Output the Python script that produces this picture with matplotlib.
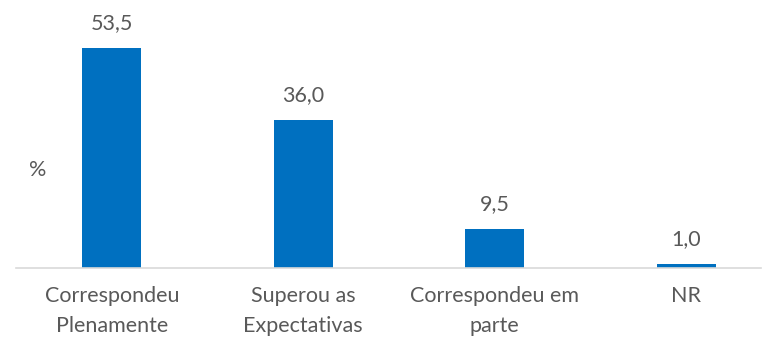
import matplotlib.pyplot as plt

categories = ["Correspondeu\nPlenamente", "Superou as\nExpectativas", "Correspondeu em\nparte", "NR"]
values = [53.5, 36.0, 9.5, 1.0]
value_labels = ["53,5", "36,0", "9,5", "1,0"]

plt.rcParams['font.family'] = ['Lato', 'DejaVu Sans']
text_color = '#595959'
bar_color = '#0070C0'

fig = plt.figure(figsize=(7.62, 3.43), dpi=100)
# axes run off the right edge a little, like a cropped chart
ax = fig.add_axes([16 / 762, 75 / 343, 745 / 762, 60 * 4.11 / 343])

x = range(len(categories))
ax.bar(x, values, width=0.31, color=bar_color, zorder=2)
for xi, v, lab in zip(x, values, value_labels):
    ax.annotate(lab, (xi, v), xytext=(0, 11), textcoords='offset points',
                ha='center', va='bottom', fontsize=15.5, color=text_color)

ax.set_xlim(-0.5, 3.5 - 21 / 191.5)
ax.set_ylim(0, 60)
ax.set_xticks(list(x))
ax.set_xticklabels(categories, fontsize=15.5, color=text_color, linespacing=1.6)
ax.tick_params(axis='x', length=0, pad=13)
ax.set_yticks([])
for side in ['left', 'right', 'top']:
    ax.spines[side].set_visible(False)
ax.spines['bottom'].set_color('#D9D9D9')
ax.spines['bottom'].set_linewidth(1.2)

fig.text(38 / 762, 1 - 170 / 343, "%", ha='center', va='center', fontsize=15.5, color=text_color)

fig.savefig("out.png", dpi=100)
